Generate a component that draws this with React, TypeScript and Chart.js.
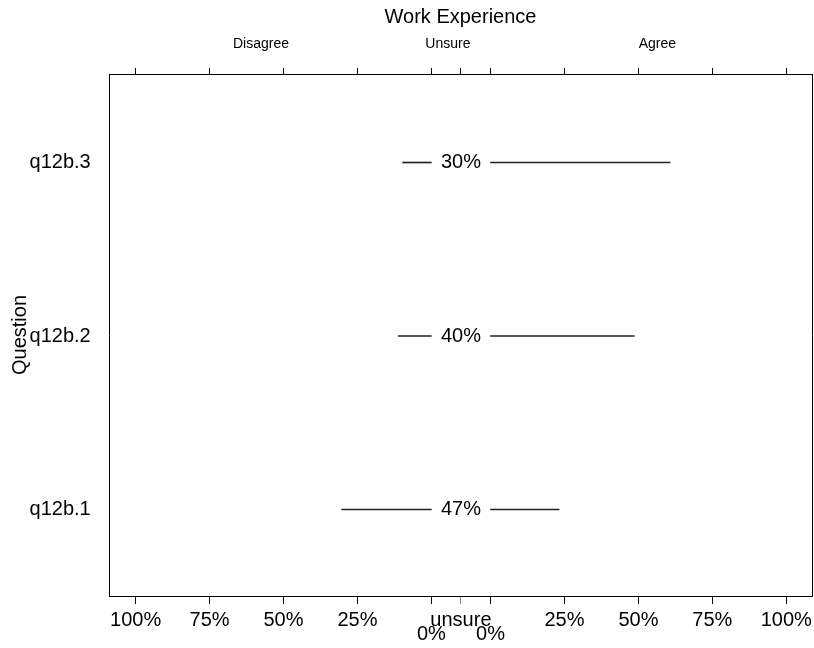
import { useEffect, useRef } from "react";
import { Chart, registerables } from "chart.js";

Chart.register(...registerables);

// Survey items, bottom to top
const QUESTIONS = ["q12b.1", "q12b.2", "q12b.3"];
// Percent of respondents per response group
const DISAGREE = [30.3, 11.2, 9.7];
const UNSURE = [47, 40, 30];
const AGREE = [23.2, 48.6, 60.7];

// Percent ticks on each side of the unsure strip
const PCT_TICKS = [100, 75, 50, 25];
const GROUP_LABELS = ["Disagree", "Unsure", "Agree"];
const GROUP_POS = [-67.6, -4.4, 66.4];

// Half-width of the central unsure strip, in axis units
const UNSURE_HALF = 10;
const X_MIN = -119.0;
const X_MAX = 118.7;
const Y_MIN = 0.50144;
const Y_MAX = 3.51009;

const FONT = '"Liberation Sans", Arial, Helvetica, sans-serif';

// Bottom / top tick values and their labels
const X_TICKS: number[] = [];
const X_TICK_LABELS: (string | string[])[] = [];
PCT_TICKS.forEach((p) => {
  X_TICKS.push(-(UNSURE_HALF + p));
  X_TICK_LABELS.push(`${p}%`);
});
X_TICKS.push(-UNSURE_HALF, 0, UNSURE_HALF);
X_TICK_LABELS.push(["", "0%"], "unsure", ["", "0%"]);
[...PCT_TICKS].reverse().forEach((p) => {
  X_TICKS.push(UNSURE_HALF + p);
  X_TICK_LABELS.push(`${p}%`);
});

const noPad = (s: any) => {
  s.paddingLeft = 0;
  s.paddingRight = 0;
  s.paddingTop = 0;
  s.paddingBottom = 0;
};

// Writes the unsure share in the middle strip of each row
const unsureLabels = {
  id: "unsureLabels",
  afterDatasetsDraw(chart: any) {
    const { ctx, scales } = chart;
    const x = scales.x;
    const y = scales.y;
    ctx.save();
    ctx.font = `20px ${FONT}`;
    ctx.fillStyle = "#000";
    ctx.textAlign = "center";
    ctx.textBaseline = "middle";
    UNSURE.forEach((v, i) => {
      ctx.fillText(`${v}%`, x.getPixelForValue(0), y.getPixelForValue(i + 1));
    });
    ctx.restore();
  },
};

export default function App() {
  const ref = useRef<HTMLCanvasElement>(null);

  useEffect(() => {
    const canvas = ref.current;
    if (!canvas) return;
    Chart.defaults.font.family = FONT;
    Chart.defaults.color = "#000";

    const tickColor = (ctx: any) =>
      ctx.tick && ctx.tick.value === 0 ? "#888" : "#000";

    const barStyle = {
      xAxisID: "x",
      yAxisID: "y",
      grouped: false,
      barThickness: 1,
      backgroundColor: "#222",
      borderColor: "#222",
      borderWidth: 0,
    };

    const chart = new Chart(canvas, {
      type: "bar",
      data: {
        datasets: [
          {
            label: "Disagree",
            ...barStyle,
            data: DISAGREE.map((p, i) => ({
              x: [-(UNSURE_HALF + p), -UNSURE_HALF],
              y: i + 1,
            })),
          },
          {
            label: "Agree",
            ...barStyle,
            data: AGREE.map((p, i) => ({
              x: [UNSURE_HALF, UNSURE_HALF + p],
              y: i + 1,
            })),
          },
        ] as any,
      },
      options: {
        animation: false,
        responsive: false,
        indexAxis: "y",
        layout: { padding: 0 },
        plugins: {
          legend: { display: false },
          tooltip: { enabled: false },
          title: { display: false },
          colors: { enabled: false },
        },
        scales: {
          x: {
            type: "linear",
            position: "bottom",
            min: X_MIN,
            max: X_MAX,
            offset: false,
            afterBuildTicks: (s: any) => {
              s.ticks = X_TICKS.map((v) => ({ value: v }));
            },
            afterFit: (s: any) => {
              s.height = 52;
              noPad(s);
            },
            grid: {
              drawOnChartArea: false,
              drawTicks: true,
              tickLength: 8,
              color: tickColor,
              tickColor: tickColor,
              lineWidth: 1,
            },
            border: { display: true, color: "#000", width: 1 },
            ticks: {
              autoSkip: false,
              maxRotation: 0,
              minRotation: 0,
              padding: 8.65,
              color: "#000",
              font: { size: 20, lineHeight: 0.735 },
              callback: (_v: any, i: number) => X_TICK_LABELS[i],
            },
          },
          x2: {
            type: "linear",
            position: "top",
            weight: 0,
            min: X_MIN,
            max: X_MAX,
            offset: false,
            afterBuildTicks: (s: any) => {
              s.ticks = X_TICKS.map((v) => ({ value: v }));
            },
            afterFit: (s: any) => {
              s.height = 8;
              noPad(s);
            },
            grid: {
              drawOnChartArea: false,
              drawTicks: true,
              tickLength: 6,
              color: "#000",
              tickColor: "#000",
            },
            border: { display: true, color: "#000", width: 1 },
            ticks: { display: false },
          },
          x3: {
            type: "linear",
            position: "top",
            weight: 10,
            min: X_MIN,
            max: X_MAX,
            offset: false,
            afterBuildTicks: (s: any) => {
              s.ticks = GROUP_POS.map((v) => ({ value: v }));
            },
            afterFit: (s: any) => {
              s.height = 66;
              noPad(s);
            },
            grid: { display: false, drawTicks: false, drawOnChartArea: false },
            border: { display: false },
            ticks: {
              autoSkip: false,
              maxRotation: 0,
              minRotation: 0,
              padding: 13.5,
              color: "#000",
              font: { size: 14 },
              callback: (_v: any, i: number) => GROUP_LABELS[i],
            },
            title: {
              display: true,
              text: "Work Experience",
              color: "#000",
              font: { size: 20, lineHeight: 1.2 },
              padding: { top: 5, bottom: 0 },
            },
          },
          y: {
            type: "linear",
            position: "left",
            min: Y_MIN,
            max: Y_MAX,
            offset: false,
            afterBuildTicks: (s: any) => {
              s.ticks = QUESTIONS.map((_, i) => ({ value: i + 1 }));
            },
            afterFit: (s: any) => {
              s.width = 109;
              noPad(s);
            },
            grid: { drawOnChartArea: false, drawTicks: false, offset: false },
            border: { display: true, color: "#000", width: 1 },
            ticks: {
              autoSkip: false,
              padding: 18.3,
              color: "#000",
              font: { size: 20 },
              callback: (_v: any, i: number) => QUESTIONS[i],
            },
            title: {
              display: true,
              text: "Question",
              color: "#000",
              font: { size: 20, lineHeight: 1.2 },
              padding: { top: 8, bottom: 0 },
            },
          },
          y2: {
            type: "linear",
            position: "right",
            min: Y_MIN,
            max: Y_MAX,
            offset: false,
            afterFit: (s: any) => {
              s.width = 2;
              noPad(s);
            },
            grid: { drawOnChartArea: false, drawTicks: false },
            border: { display: true, color: "#000", width: 1 },
            ticks: { display: false },
          },
        },
      } as any,
      plugins: [unsureLabels],
    });

    return () => chart.destroy();
  }, []);

  return (
    <div
      style={{
        position: "absolute",
        left: 0,
        top: 0,
        width: 814,
        height: 648,
        background: "#fff",
      }}
    >
      <canvas ref={ref} width={814} height={648} style={{ display: "block" }} />
    </div>
  );
}
